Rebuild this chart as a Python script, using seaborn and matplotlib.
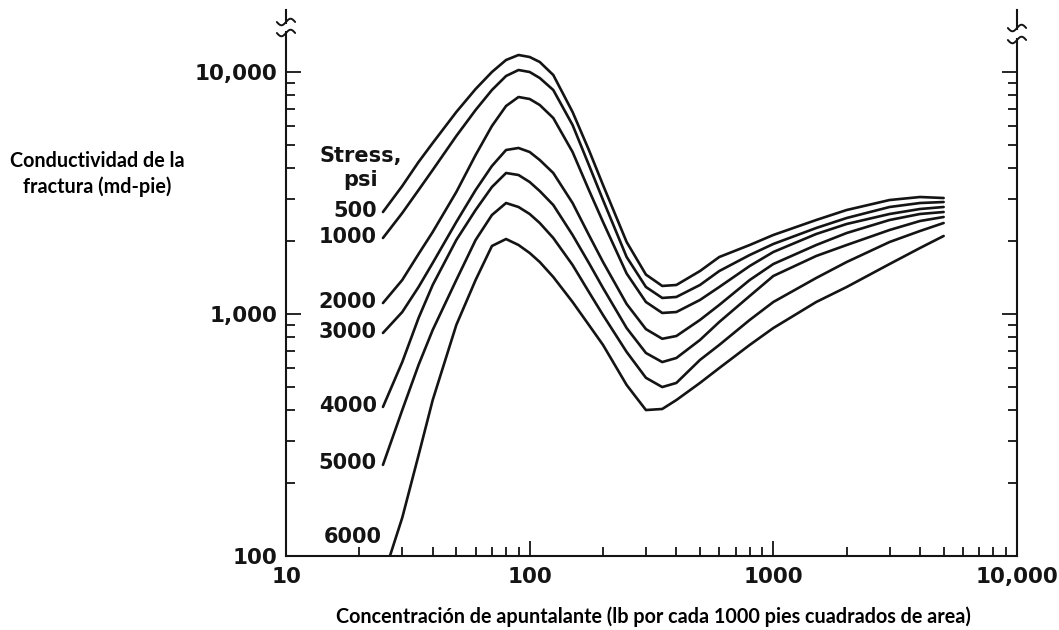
import numpy as np
import pandas as pd
import matplotlib
matplotlib.use("Agg")
import matplotlib.pyplot as plt
import seaborn as sns
from matplotlib.ticker import FixedLocator, LogLocator, NullFormatter

# ---------------- data ----------------
conc = [25, 30, 35, 40, 50, 60, 70, 80, 90, 100, 110, 125, 150, 175, 200, 250,
        300, 350, 400, 500, 600, 800, 1000, 1500, 2000, 3000, 4000, 5000]
cond_500 = [2639, 3380, 4248, 5089, 6835, 8505, 10000, 11210, 11756, 11534, 10998,
            9718, 6835, 4761, 3412, 1984, 1455, 1306, 1318, 1505, 1720, 1928,
            2121, 2446, 2690, 2958, 3044, 3015]
cond_1000 = [2061, 2614, 3253, 3936, 5439, 6966, 8425, 9627, 10192, 10000, 9445,
             8425, 6039, 4128, 2958, 1720, 1293, 1165, 1176, 1318, 1505, 1753,
             1947, 2267, 2493, 2768, 2875, 2902]
cond_2000 = [1110, 1382, 1770, 2182, 3192, 4540, 5982, 7236, 7883, 7735, 7305,
             6455, 4671, 3253, 2400, 1470, 1121, 1010, 1019, 1143, 1293, 1579,
             1804, 2141, 2355, 2590, 2716, 2768]
cond_3000 = [835, 1019, 1293, 1625, 2400, 3253, 4089, 4761, 4853, 4671, 4329,
             3825, 2875, 2121, 1640, 1100, 866, 790, 811, 945, 1090, 1382,
             1609, 1928, 2161, 2446, 2590, 2639]
cond_4000 = [413, 633, 963, 1318, 2022, 2690, 3348, 3825, 3753, 3511, 3222,
             2821, 2121, 1625, 1281, 875, 690, 633, 658, 781, 927, 1187,
             1436, 1737, 1928, 2224, 2423, 2517]
cond_5000 = [238, 401, 616, 859, 1382, 2022, 2565, 2875, 2768, 2590, 2377,
             2061, 1594, 1233, 990, 697, 545, 499, 519, 646, 745, 945,
             1121, 1409, 1640, 1984, 2203, 2377]
conc_6000 = [26.7, 30, 35, 40, 50, 60, 70, 80, 90, 100, 110, 125, 150, 175, 200,
             250, 300, 350, 400, 500, 600, 800, 1000, 1500, 2000, 3000, 4000, 5000]
cond_6000 = [100, 144, 261, 441, 901, 1382, 1910, 2041, 1928, 1787, 1640,
             1422, 1121, 901, 745, 509, 401, 405, 441, 519, 598, 745,
             875, 1121, 1293, 1609, 1874, 2101]

stress_levels = ["500", "1000", "2000", "3000", "4000", "5000", "6000"]
x_ticks = [10, 100, 1000, 10000]
x_tick_labels = ["10", "100", "1000", "10,000"]
y_ticks = [100, 1000, 10000]
y_tick_labels = ["100", "1,000", "10,000"]

xlabel = "Concentración de apuntalante (lb por cada 1000 pies cuadrados de area)"
ylabel_lines = ["Conductividad de la", "fractura (md-pie)"]
stress_title = "Stress,\npsi"

series = {
    "500": (conc, cond_500),
    "1000": (conc, cond_1000),
    "2000": (conc, cond_2000),
    "3000": (conc, cond_3000),
    "4000": (conc, cond_4000),
    "5000": (conc, cond_5000),
    "6000": (conc_6000, cond_6000),
}
frames = []
for s in stress_levels:
    xs, ys = series[s]
    frames.append(pd.DataFrame({"conc": xs, "cond": ys, "stress": s}))
df = pd.concat(frames, ignore_index=True)

# ---------------- figure ----------------
sns.set_theme(style="white")
plt.rcParams["font.family"] = ["DejaVu Sans"]

W, H = 1059, 630
fig = plt.figure(figsize=(W / 100, H / 100), dpi=100)
fig.patch.set_facecolor("white")
ax = fig.add_axes([286 / W, (H - 556) / H, 731 / W, 546 / H])
ax.set_facecolor("white")

ink = "#141414"
sns.lineplot(data=df, x="conc", y="cond", hue="stress", units="stress",
             estimator=None, sort=False, palette=[ink] * len(stress_levels),
             linewidth=1.9, legend=False, ax=ax)
for ln in ax.get_lines():
    ln.set_solid_joinstyle("round")
    ln.set_solid_capstyle("round")

ax.set_xscale("log")
ax.set_yscale("log")
ax.set_xlim(10, 10000)
ax.set_ylim(100, 10 ** (2 + 546 / 242))

ax.xaxis.set_major_locator(FixedLocator(x_ticks))
ax.yaxis.set_major_locator(FixedLocator(y_ticks))
ax.xaxis.set_minor_locator(LogLocator(base=10, subs=np.arange(2, 10)))
ax.yaxis.set_minor_locator(LogLocator(base=10, subs=np.arange(2, 10)))
ax.xaxis.set_minor_formatter(NullFormatter())
ax.yaxis.set_minor_formatter(NullFormatter())
ax.set_xticklabels(x_tick_labels)
ax.set_yticklabels(y_tick_labels)

for side in ["left", "right", "bottom"]:
    ax.spines[side].set_visible(True)
    ax.spines[side].set_color(ink)
    ax.spines[side].set_linewidth(1.5)
ax.spines["top"].set_visible(False)

ax.tick_params(axis="both", which="both", direction="in", colors=ink,
               width=1.3)
ax.tick_params(axis="y", which="both", left=True, right=True,
               labelleft=True, labelright=False)
ax.tick_params(axis="x", which="both", bottom=True, top=False)
ax.tick_params(which="major", length=11)
ax.tick_params(which="minor", length=6.5)
ax.tick_params(axis="y", which="major", pad=6)
ax.tick_params(axis="x", which="major", pad=8)
for lab in ax.get_xticklabels() + ax.get_yticklabels():
    lab.set_fontsize(15.5)
    lab.set_fontweight("bold")
    lab.set_color(ink)
ax.set_xlabel("")
ax.set_ylabel("")

# stress labels at curve starts
for s in stress_levels[:-1]:
    xs, ys = series[s]
    ax.annotate(s, xy=(xs[0], ys[0]), xytext=(-4.5, 1), textcoords="offset points",
                ha="right", va="center", fontsize=15, fontweight="bold", color=ink)
ax.text((382 - 286) / 731, (556 - 537) / 546, "6000", transform=ax.transAxes,
        ha="right", va="center", fontsize=15, fontweight="bold", color=ink)
ax.text((361 - 286) / 731, (556 - 168) / 546, stress_title, transform=ax.transAxes,
        ha="center", va="center", fontsize=15, fontweight="bold", color=ink,
        linespacing=1.2)

# axis break marks at top of vertical spines
def axis_break(xf, y1, y2):
    t = np.linspace(-1, 1, 30)
    dx = 0.0125 * t
    for yc in (y1, y2):
        ax.plot(xf + dx, yc + 0.006 * np.sin(np.pi * t), transform=ax.transAxes,
                color=ink, lw=1.4, clip_on=False, zorder=5)
    ax.plot([xf, xf], [y2 + 0.004, y1 - 0.004], transform=ax.transAxes,
            color="white", lw=4, clip_on=False, zorder=4,
            solid_capstyle="butt")

axis_break(0.0, (556 - 22) / 546, (556 - 33) / 546)
axis_break(1.0, (556 - 28) / 546, (556 - 40) / 546)

# axis titles
title_font = dict(family=["Lato", "DejaVu Sans"], fontweight="bold", fontsize=14.2,
                  color="black")
fig.text(653 / W, 1 - 623 / H, xlabel, ha="center", va="baseline", **title_font)
fig.text(97 / W, 1 - 167 / H, ylabel_lines[0], ha="center", va="baseline", **title_font)
fig.text(97 / W, 1 - 193 / H, ylabel_lines[1], ha="center", va="baseline", **title_font)

fig.savefig("out.png", dpi=100, facecolor="white")
